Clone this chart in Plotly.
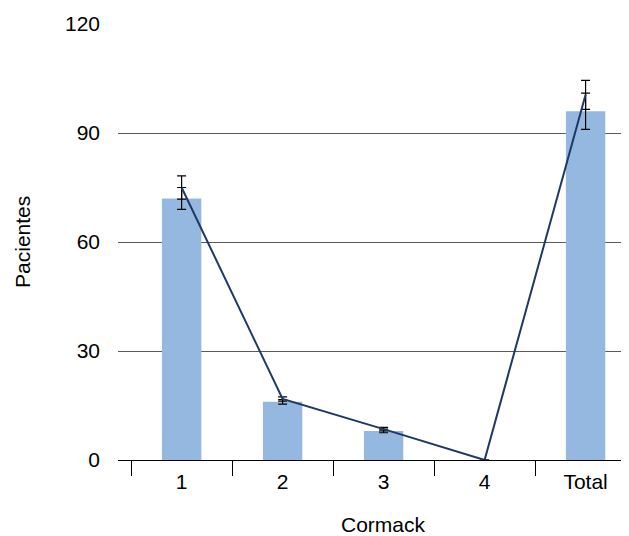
import plotly.graph_objects as go

categories = ["1", "2", "3", "4", "Total"]
bar_values = [72, 16, 8, 0, 96]
bar_errors = [3, 0.6, 0.5, 0, 5]
line_values = [75, 16.8, 8.5, 0, 100.5]
line_errors = [3.2, 0.6, 0.5, 0, 4]
y_ticks = [0, 30, 60, 90, 120]

FONT = "Liberation Sans, Arial, sans-serif"

fig = go.Figure()
fig.add_trace(go.Bar(
    x=categories, y=bar_values, width=0.39,
    marker=dict(color="#95b8e0", line=dict(width=0)),
    error_y=dict(type="data", array=bar_errors, color="black", thickness=1.2, width=4.5),
    showlegend=False,
))
fig.add_trace(go.Scatter(
    x=categories, y=line_values, mode="lines",
    line=dict(color="#1f3864", width=2),
    error_y=dict(type="data", array=line_errors, color="black", thickness=1.2, width=4.5),
    showlegend=False,
))

fig.update_layout(
    width=621, height=528,
    margin=dict(l=110, r=0, t=16, b=76),
    plot_bgcolor="white", paper_bgcolor="white",
    font=dict(family=FONT, size=21, color="black"),
    xaxis=dict(
        type="category", range=[-0.63, 4.43],
        showline=True, linecolor="black", linewidth=1,
        ticks="outside", tickson="boundaries", ticklen=15, tickcolor="black", tickwidth=1,
        showgrid=False, tickfont=dict(size=21), ticklabelstandoff=3,
    ),
    yaxis=dict(
        range=[0, 120], tickvals=y_ticks,
        showgrid=True, gridcolor="#5a5a5a", gridwidth=1,
        zeroline=False, showline=False, ticks="",
        ticklabelstandoff=17, tickfont=dict(size=21),
    ),
    annotations=[
        dict(text="Cormack", xref="paper", yref="paper", x=0.5205, y=-0.149,
             showarrow=False, font=dict(size=21), xanchor="center", yanchor="middle"),
        dict(text="Pacientes", xref="paper", yref="paper", x=-0.188, y=0.5,
             showarrow=False, font=dict(size=21), textangle=-90, xanchor="center", yanchor="middle"),
    ],
)

fig.write_html("out.html")
